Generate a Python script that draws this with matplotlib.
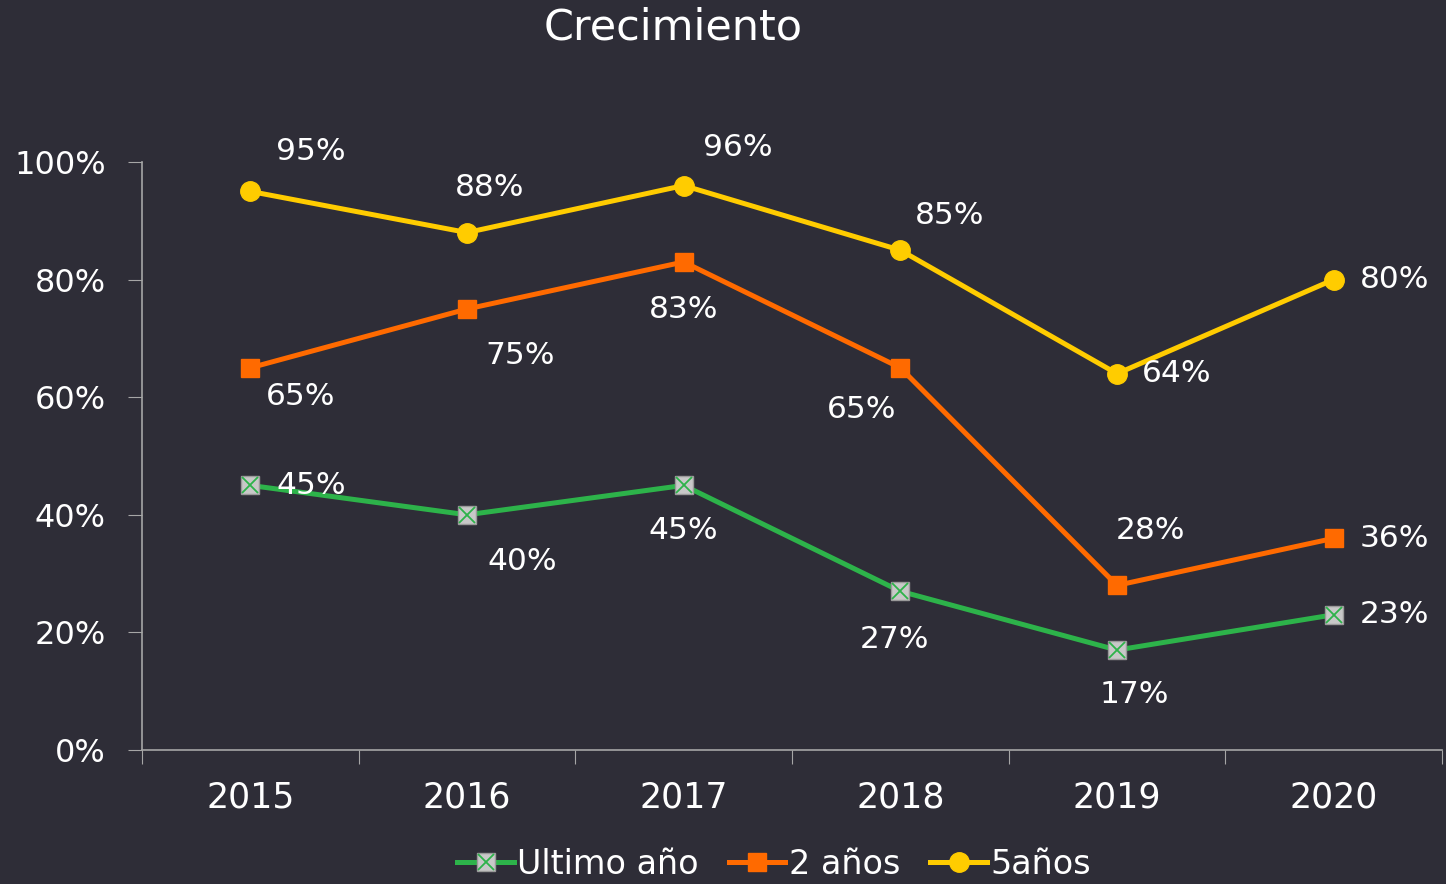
import matplotlib.pyplot as plt
import matplotlib.lines as mlines
from matplotlib.ticker import PercentFormatter

# datos
years = ["2015", "2016", "2017", "2018", "2019", "2020"]
ultimo = [45, 40, 45, 27, 17, 23]
dos_anos = [65, 75, 83, 65, 28, 36]
cinco_anos = [95, 88, 96, 85, 64, 80]

# desplazamiento de etiquetas (pixeles)
off_ultimo = [(61, 0), (55, -47), (0, -45), (-6, -48), (17, -44), (61, 0)]
off_dos = [(50, -29), (53, -47), (0, -48), (-39, -42), (33, 55), (61, 0)]
off_cinco = [(60, 40), (23, 45), (54, 38), (49, 35), (60, 0), (61, 0)]

bg = "#2e2d37"
axis_col = "#a6a6a6"
green, orange, yellow = "#2db34a", "#ff6a00", "#ffcc00"
plt.rcParams['font.family'] = ['DejaVu Sans']

fig = plt.figure(figsize=(14.46, 8.84), dpi=100, facecolor=bg)
ax = fig.add_axes([142 / 1446, 134 / 884, 1300 / 1446, 588 / 884])
ax.set_facecolor(bg)

x = range(len(years))
series = [
    (ultimo, green, dict(marker="s", markersize=13, markerfacecolor="#c8c8c8",
                         markeredgecolor="#9a9a9a", markeredgewidth=1), off_ultimo),
    (dos_anos, orange, dict(marker="s", markersize=13, markerfacecolor=orange,
                            markeredgecolor=orange), off_dos),
    (cinco_anos, yellow, dict(marker="o", markersize=14, markerfacecolor=yellow,
                              markeredgecolor=yellow), off_cinco),
]

handles = []
for vals, col, mk, offs in series:
    ln, = ax.plot(x, vals, color=col, lw=3.6, zorder=3, **mk)
    handles.append(ln)
    for xi, v, (dx, dy) in zip(x, vals, offs):
        ax.annotate(f"{v}%", (xi, v), xytext=(dx, dy), textcoords="offset pixels",
                    ha="center", va="center", color="white", fontsize=22.5, zorder=5)
# cruz dentro del marcador verde
ax.plot(x, ultimo, linestyle="none", marker="x", markersize=11, markeredgecolor=green,
        markeredgewidth=1.3, zorder=4)

ax.set_xlim(-0.5, 5.5)
ax.set_ylim(0, 100)
ax.set_yticks([0, 20, 40, 60, 80, 100])
ax.yaxis.set_major_formatter(PercentFormatter(decimals=0))
ax.set_xticks([i + 0.5 for i in range(-1, 6)])
ax.set_xticklabels([])
ax.set_xticks(list(x), minor=True)
ax.set_xticklabels(years, minor=True)
ax.tick_params(axis="x", which="major", length=10, color=axis_col, direction="out")
ax.tick_params(axis="x", which="minor", length=0, pad=22, labelsize=25, labelcolor="white")
ax.tick_params(axis="y", length=10, color=axis_col, labelsize=23, labelcolor="white", pad=16)

for s in ["top", "right"]:
    ax.spines[s].set_visible(False)
for s in ["left", "bottom"]:
    ax.spines[s].set_color(axis_col)
    ax.spines[s].set_linewidth(1.2)

fig.text(673 / 1446, 1 - 28 / 884, "Crecimiento", ha="center", va="center",
         color="white", fontsize=31)

# leyenda
h0 = mlines.Line2D([], [], color=green, lw=3.6, marker="s", markersize=13,
                   markerfacecolor="#c8c8c8", markeredgecolor="#9a9a9a")
h0x = mlines.Line2D([], [], color=green, lw=0, marker="x", markersize=11,
                    markeredgewidth=1.3)
fig.legend([(h0, h0x), handles[1], handles[2]], ["Ultimo año", "2 años", "5años"],
           loc="center", bbox_to_anchor=(774 / 1446, 20 / 884), ncol=3, frameon=False,
           fontsize=24, labelcolor="white", handlelength=1.7, handletextpad=0.1,
           columnspacing=0.9)

fig.savefig("out.png", dpi=100, facecolor=bg)
